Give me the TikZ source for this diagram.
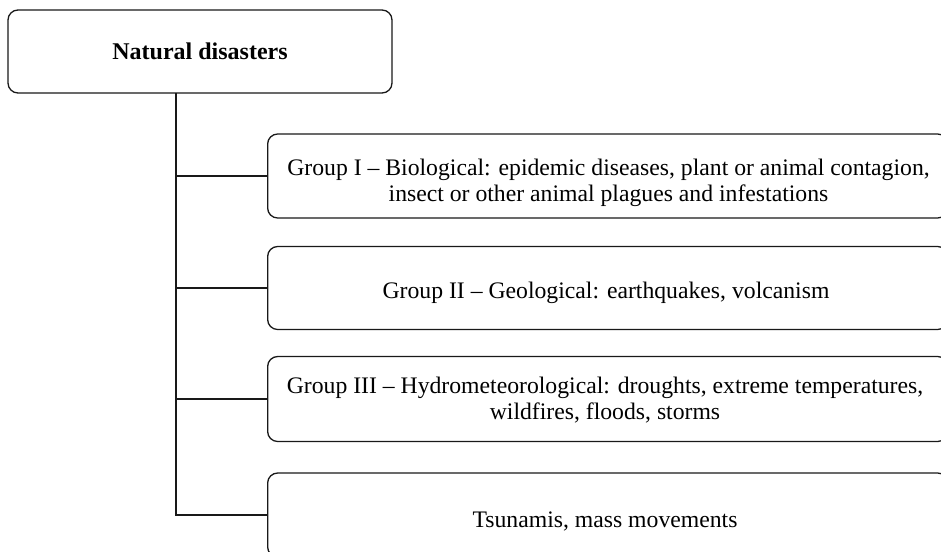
\documentclass[tikz,border=0pt]{standalone}
\usepackage{fontspec}
\setmainfont{Liberation Serif}
\begin{document}
\begin{tikzpicture}[x=1pt,y=1pt,
  box/.style={draw=black!90, line width=1.3pt, rounded corners=10pt, inner sep=0pt},
  lbl/.style={align=center, inner sep=0pt, font=\fontsize{23.7}{26}\selectfont},
  link/.style={draw=black!90, line width=1.3pt}]
\useasboundingbox (0,0) rectangle (941,-551);
\clip (0,0) rectangle (941,-551);
\node[box, minimum width=384pt, minimum height=83pt, font=\fontsize{24}{26}\selectfont\bfseries] (top) at (200,-51.5) {Natural disasters};
\node[box, minimum width=680pt, minimum height=84pt, anchor=west] (g1) at (267,-176) {};
\node[lbl] (t1) at (608.5,-183) {Group I -- Biological: epidemic diseases, plant or animal contagion,\\insect or other animal plagues and infestations};
\node[box, minimum width=680pt, minimum height=83pt, anchor=west] (g2) at (267,-288) {};
\node[lbl] (t2) at (606,-293) {Group II -- Geological: earthquakes, volcanism};
\node[box, minimum width=680pt, minimum height=85pt, anchor=west] (g3) at (267,-399) {};
\node[lbl] (t3) at (605,-400) {Group III -- Hydrometeorological: droughts, extreme temperatures,\\wildfires, floods, storms};
\node[box, minimum width=680pt, minimum height=84pt, anchor=west] (g4) at (267,-515) {};
\node[lbl] (t4) at (605,-521) {Tsunamis, mass movements};
\coordinate (trunk) at (176,-93);
\draw[link] (trunk) |- (g4.west);
\draw[link] (g1.west) -- (g1.west -| trunk);
\draw[link] (g2.west) -- (g2.west -| trunk);
\draw[link] (g3.west) -- (g3.west -| trunk);
\end{tikzpicture}
\end{document}
